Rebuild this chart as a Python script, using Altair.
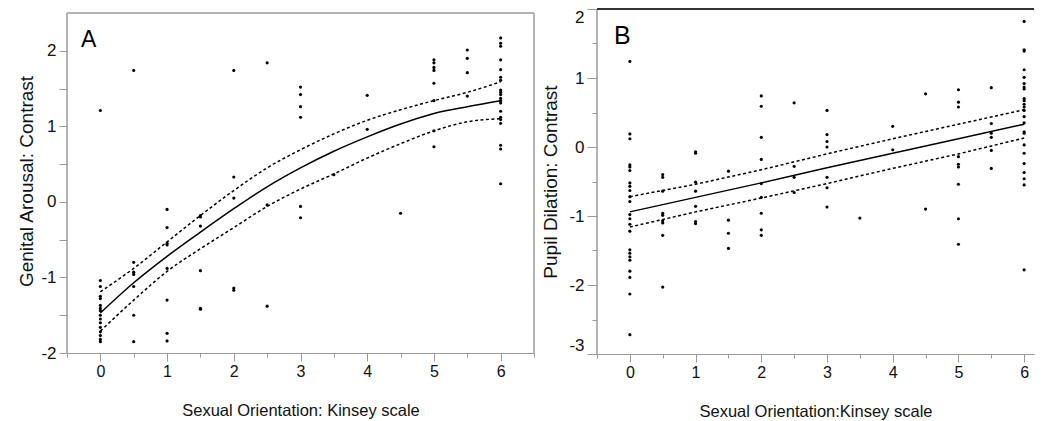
import altair as alt
import pandas as pd

# ---------------- Panel A: Genital arousal ----------------
a_levels = [0, 0.5, 1, 1.5, 2, 2.5, 3, 3.5, 4, 4.5, 5, 5.5, 6]
a_values = [
    [1.21, -1.04, -1.12, -1.25, -1.28, -1.37, -1.41, -1.44, -1.50, -1.55, -1.60, -1.66, -1.72, -1.77, -1.82, -1.85],
    [1.74, -0.80, -0.93, -0.96, -1.12, -1.50, -1.85],
    [-0.10, -0.34, -0.55, -0.57, -0.88, -1.30, -1.74, -1.84],
    [-0.18, -0.20, -0.32, -0.91, -1.41, -1.42],
    [1.74, 0.33, 0.05, -1.14, -1.17],
    [1.84, -0.04, -1.38],
    [1.52, 1.42, 1.26, 1.12, -0.06, -0.21],
    [0.36],
    [1.41, 0.96],
    [-0.15],
    [1.88, 1.84, 1.78, 1.74, 1.57, 1.34, 0.94, 0.73],
    [2.01, 1.90, 1.71, 1.40],
    [2.17, 2.10, 2.06, 1.88, 1.75, 1.65, 1.61, 1.48, 1.45, 1.42, 1.37, 1.34, 1.31, 1.20, 1.12, 1.09, 1.04, 0.75, 0.70, 0.24],
]
a_fit_x = [0, 0.5, 1, 1.5, 2, 2.5, 3, 3.5, 4, 4.5, 5, 5.5, 6]
a_fit = [-1.47, -1.07, -0.72, -0.40, -0.09, 0.20, 0.45, 0.67, 0.86, 1.03, 1.17, 1.26, 1.34]
a_upper = [-1.19, -0.88, -0.53, -0.18, 0.15, 0.45, 0.69, 0.90, 1.08, 1.22, 1.34, 1.45, 1.59]
a_lower = [-1.71, -1.30, -0.92, -0.62, -0.34, -0.06, 0.17, 0.37, 0.58, 0.77, 0.94, 1.06, 1.10]

# ---------------- Panel B: Pupil dilation ----------------
b_levels = [0, 0.5, 1, 1.5, 2, 2.5, 3, 3.5, 4, 4.5, 5, 5.5, 6]
b_values = [
    [1.24, 0.19, 0.12, -0.26, -0.29, -0.34, -0.52, -0.57, -0.63, -0.72, -0.79, -0.98, -1.04, -1.12, -1.22,
     -1.49, -1.54, -1.59, -1.64, -1.80, -1.89, -2.13, -2.72],
    [-0.40, -0.44, -0.64, -0.96, -0.99, -1.07, -1.10, -1.28, -2.03],
    [-0.07, -0.09, -0.51, -0.64, -0.86, -1.08, -1.11],
    [-0.35, -1.06, -1.25, -1.47],
    [0.74, 0.59, 0.14, -0.18, -0.53, -0.73, -0.96, -1.20, -1.28],
    [0.64, -0.28, -0.44, -0.66],
    [0.53, 0.18, 0.08, 0.00, -0.44, -0.59, -0.87],
    [-1.03],
    [0.30, -0.04],
    [0.77, -0.90],
    [0.83, 0.65, 0.58, -0.14, -0.25, -0.29, -0.54, -1.04, -1.41],
    [0.86, 0.34, 0.20, 0.14, -0.05, -0.31],
    [1.82, 1.41, 1.39, 1.12, 1.01, 0.92, 0.87, 0.84, 0.70, 0.67, 0.62, 0.58, 0.53, 0.44, 0.35, 0.22, 0.20,
     0.03, -0.09, -0.24, -0.37, -0.46, -0.55, -1.78],
]
b_fit_x = [0, 1, 2, 3, 4, 5, 6]
b_fit = [-0.94, -0.73, -0.52, -0.30, -0.09, 0.12, 0.33]
b_upper = [-0.72, -0.54, -0.33, -0.10, 0.12, 0.33, 0.54]
b_lower = [-1.16, -0.94, -0.74, -0.53, -0.31, -0.10, 0.13]

# tick values (major = labelled, minor = half steps)
x_major = [0, 1, 2, 3, 4, 5, 6]
a_x_minor = [-0.5, 0.5, 1.5, 2.5, 3.5, 4.5, 5.5, 6.5]
b_x_minor = [-0.5, 0.5, 1.5, 2.5, 3.5, 4.5, 5.5]
a_y_major = [-2, -1, 0, 1, 2]
a_y_minor = [-1.5, -0.5, 0.5, 1.5]
b_y_major = [-3, -2, -1, 0, 1, 2]
b_y_minor = [-2.5, -1.5, -0.5, 0.5, 1.5]
panel_letters = ["A", "B"]
x_title = ["Sexual Orientation: Kinsey scale", "Sexual Orientation:Kinsey scale"]
y_titles = ["Genital Arousal: Contrast", "Pupil Dilation: Contrast"]

FONT = "Liberation Sans"
AX = "#9a9a9a"
PLAIN_LABEL = "'' + datum.value"


def points_df(levels, values):
    rows = []
    for lv, vals in zip(levels, values):
        for v in vals:
            rows.append({"x": lv, "y": v})
    return pd.DataFrame(rows)


def bands_df(xs, up, lo):
    rows = []
    for x, u in zip(xs, up):
        rows.append({"x": x, "y": u, "band": "upper"})
    for x, l in zip(xs, lo):
        rows.append({"x": x, "y": l, "band": "lower"})
    return pd.DataFrame(rows)


def panel(levels, values, fx, fit, up, lo, xdom, ydom, x_minor, y_major, y_minor,
          xaxis_title, yaxis_title, ytick_major, ytick_minor, yflush, ytitle_pad,
          letter, letter_x, letter_y, letter_size, width, height,
          frame_top, frame_right, top_color, top_width, right_border, interp):
    xs = alt.Scale(domain=xdom, nice=False, zero=False)
    ys = alt.Scale(domain=ydom, nice=False, zero=False)
    common = dict(grid=False, labelColor="#111", titleColor="#111", titleFontWeight="normal",
                  labelFont=FONT, titleFont=FONT, tickColor=AX)
    x_axis = alt.Axis(values=x_major, labelExpr=PLAIN_LABEL, labelOverlap=False, labelFlush=False,
                      tickSize=8, labelPadding=2, labelFontSize=16, title=xaxis_title,
                      titleFontSize=16.5, titlePadding=23, domainColor=AX, orient="bottom", **common)
    y_axis = alt.Axis(values=y_major, labelExpr=PLAIN_LABEL, labelOverlap=False, labelFlush=yflush,
                      tickSize=ytick_major, labelPadding=3, labelFontSize=17, title=yaxis_title,
                      titleFontSize=19, titlePadding=ytitle_pad, domain=False, orient="left", **common)
    x_minor_axis = alt.Axis(values=x_minor, labels=False, tickSize=4, title=None, domain=False,
                            orient="bottom", grid=False, tickColor=AX)
    y_minor_axis = alt.Axis(values=y_minor, labels=False, tickSize=ytick_minor, title=None,
                            domain=False, orient="left", grid=False, tickColor=AX)

    pts = alt.Chart(points_df(levels, values)).mark_circle(size=10, color="black", opacity=1).encode(
        x=alt.X("x:Q", scale=xs, axis=x_axis),
        y=alt.Y("y:Q", scale=ys, axis=y_axis),
    )
    frame = pd.DataFrame({"x0": [xdom[0]], "x1": [frame_right], "y0": [ydom[0]], "y1": [frame_top]})
    left_rule = alt.Chart(frame).mark_rule(color=AX, strokeWidth=1.5).encode(
        x=alt.X("x0:Q", scale=xs, axis=x_minor_axis),
        y=alt.Y("y0:Q", scale=ys, axis=y_minor_axis), y2="y1:Q")
    top_rule = alt.Chart(frame).mark_rule(color=top_color, strokeWidth=top_width).encode(
        y=alt.Y("y1:Q", scale=ys, axis=None), x=alt.X("x0:Q", scale=xs, axis=None), x2="x1:Q")
    layers = [pts, left_rule, top_rule]
    if right_border:
        right_rule = alt.Chart(frame).mark_rule(color=AX, strokeWidth=1.5).encode(
            x=alt.X("x1:Q", scale=xs, axis=None), y=alt.Y("y0:Q", scale=ys, axis=None), y2="y1:Q")
        layers.append(right_rule)
    fit_line = alt.Chart(pd.DataFrame({"x": fx, "y": fit})).mark_line(
        color="black", strokeWidth=1.5, interpolate=interp).encode(
        x=alt.X("x:Q", scale=xs, axis=None), y=alt.Y("y:Q", scale=ys, axis=None))
    band_lines = alt.Chart(bands_df(fx, up, lo)).mark_line(
        color="black", strokeWidth=1.5, strokeDash=[3, 2.5], interpolate=interp).encode(
        x=alt.X("x:Q", scale=xs, axis=None), y=alt.Y("y:Q", scale=ys, axis=None), detail="band:N")
    txt = alt.Chart(pd.DataFrame({"t": [letter]})).mark_text(
        align="left", baseline="alphabetic", fontSize=letter_size, font=FONT, color="black").encode(
        text="t:N", x=alt.value(letter_x), y=alt.value(letter_y))
    return alt.layer(*layers, band_lines, fit_line, txt).resolve_axis(
        x="independent", y="independent").properties(width=width, height=height)


chart_a = panel(a_levels, a_values, a_fit_x, a_fit, a_upper, a_lower,
                [-0.5, 6.5], [-2, 2.553], a_x_minor, a_y_major, a_y_minor,
                x_title[0], y_titles[0], 8, 8, False, 4,
                panel_letters[0], 14, 38, 23, 467, 344, 2.5, 6.5, AX, 1.5, True, "monotone")

chart_b = panel(b_levels, b_values, b_fit_x, b_fit, b_upper, b_lower,
                [-0.5, 6.15], [-3, 2], b_x_minor, b_y_major, b_y_minor,
                x_title[1], y_titles[1], 10, 5, True, 8,
                panel_letters[1], 17, 35, 25, 437, 345, 2, 6.15, "#333333", 2, False, "linear")

chart = alt.hconcat(chart_a, chart_b, spacing=6).properties(
    padding={"left": 9, "top": 0, "right": 0, "bottom": 0}
).configure_view(strokeWidth=0)

chart.save("out.html", embed_options={"renderer": "svg", "actions": False})
